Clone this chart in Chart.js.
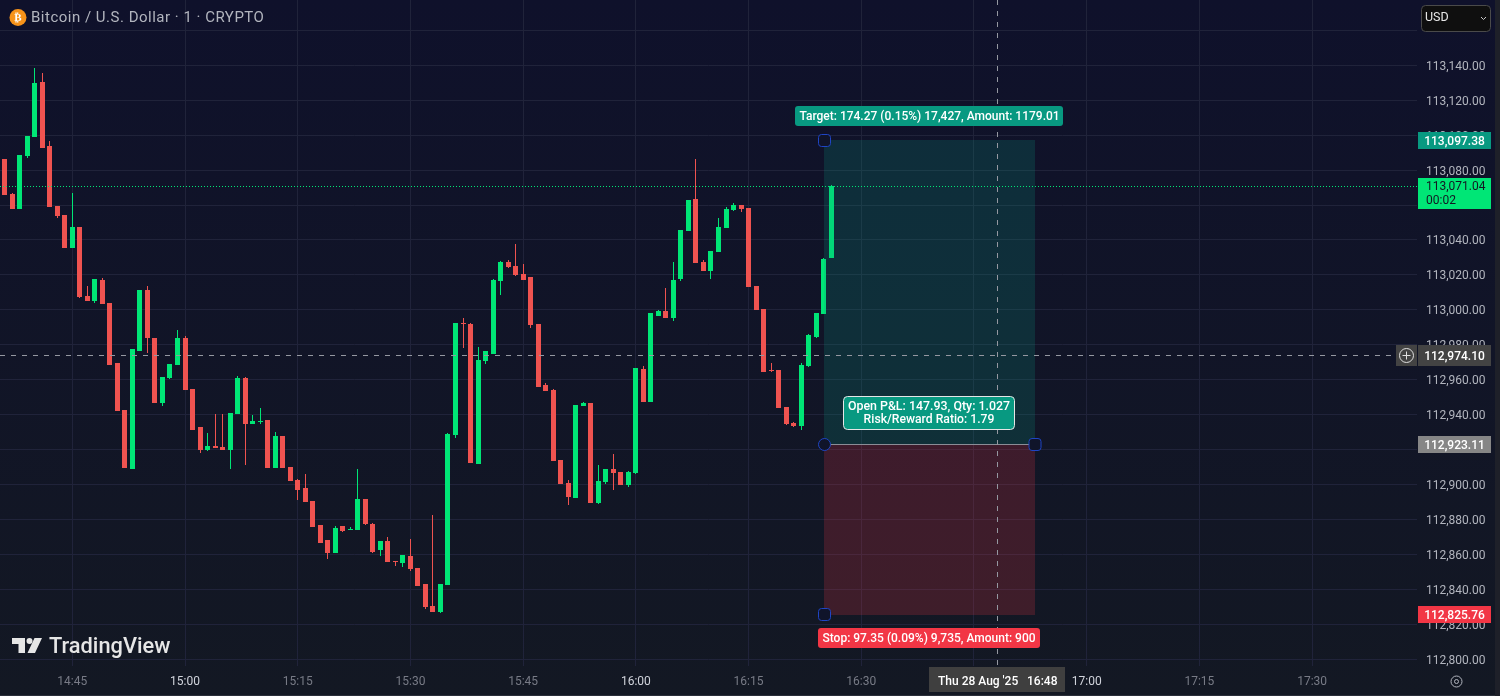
<!DOCTYPE html>
<html>
<head>
<meta charset="utf-8">
<title>Bitcoin / U.S. Dollar</title>
<script src="https://cdn.jsdelivr.net/npm/chart.js@4/dist/chart.umd.min.js"></script>
<style>
    html, body { margin: 0; padding: 0; background: #131722; }
    #wrap { width: 1500px; height: 696px; background: linear-gradient(180deg, #0f112b 0%, #131823 100%); }
    canvas { display: block; }
</style>
</head>
<body>
<div id="wrap"><canvas id="chart" width="1500" height="696"></canvas></div>
<script>
// 1 minute candles, first one is 14:36
const firstMinute = 14 * 60 + 36;
const opens = [
    113086.3, 113066.3, 113057.7, 113088.0, 113098.9, 113130.4, 113093.8, 113059.4, 113054.3, 113035.4,
    113047.4, 113007.9, 113005.1, 113017.1, 113003.9, 112969.6, 112942.7, 112908.9, 112976.4, 113011.3,
    112983.9, 112946.7, 112961.0, 112968.4, 112983.9, 112954.7, 112932.9, 112919.8, 112922.1, 112921.5,
    112919.8, 112940.4, 112961.0, 112934.7, 112935.8, 112937.0, 112909.5, 112927.8, 112910.1, 112902.6,
    112898.0, 112890.6, 112876.9, 112868.3, 112860.8, 112876.3, 112874.0, 112874.0, 112891.7, 112877.4,
    112862.6, 112867.7, 112856.3, 112855.1, 112859.1, 112852.3, 112843.1, 112830.5, 112827.1, 112842.5,
    112928.4, 112992.5, 112991.9, 112911.8, 112970.7, 112974.7, 113016.5, 113027.4, 113025.1, 113020.5,
    113018.8, 112991.9, 112957.0, 112954.1, 112914.1, 112900.9, 112892.3, 112945.0, 112946.7, 112889.5,
    112901.5, 112908.9, 112907.2, 112899.8, 112906.6, 112966.1, 112947.3, 112996.5, 112999.3, 112995.3,
    113017.6, 113045.1, 113063.4, 113027.4, 113022.2, 113033.1, 113046.8, 113057.1, 113060.0, 113058.3,
    113013.6, 113000.5, 112965.6, 112965.6, 112944.4, 112935.2, 112933.5, 112967.9, 112984.5, 112997.6,
    113029.7
];
const highs = [
    113086.3, 113066.9, 113088.6, 113099.5, 113138.4, 113135.5, 113096.6, 113059.4, 113054.3, 113066.9,
    113047.4, 113013.6, 113017.6, 113018.2, 113003.9, 112969.6, 112942.7, 112977.6, 113011.3, 113013.6,
    112983.9, 112961.6, 112969.0, 112988.5, 112985.0, 112954.7, 112932.9, 112929.5, 112940.4, 112940.4,
    112941.0, 112962.1, 112961.6, 112939.8, 112943.8, 112937.0, 112930.1, 112927.8, 112910.1, 112903.2,
    112906.1, 112890.6, 112876.9, 112868.3, 112876.3, 112876.3, 112875.7, 112908.9, 112891.7, 112878.0,
    112867.7, 112870.0, 112856.3, 112859.7, 112868.9, 112852.3, 112843.1, 112882.6, 112843.1, 112929.5,
    112992.5, 112995.3, 112992.5, 112978.7, 112976.4, 113017.6, 113027.9, 113028.5, 113037.7, 113026.2,
    113018.8, 112991.9, 112958.1, 112954.7, 112914.1, 112902.6, 112945.5, 112947.3, 112946.7, 112911.2,
    112908.9, 112917.5, 112907.2, 112907.8, 112966.7, 112967.9, 112998.2, 112999.9, 113012.5, 113027.4,
    113045.7, 113062.8, 113086.3, 113028.5, 113033.7, 113052.5, 113058.8, 113061.1, 113060.0, 113058.3,
    113013.6, 113000.5, 112969.6, 112965.6, 112944.4, 112935.8, 112969.6, 112986.2, 112998.2, 113029.7,
    113071.4
];
const lows = [
    113065.7, 113057.7, 113057.7, 113086.9, 113098.9, 113092.6, 113058.8, 113052.5, 113035.4, 113035.4,
    113006.8, 113005.1, 113003.9, 113003.3, 112968.4, 112942.1, 112909.5, 112908.9, 112976.4, 112975.3,
    112946.7, 112945.0, 112960.4, 112968.4, 112954.1, 112931.2, 112918.1, 112919.2, 112920.9, 112919.8,
    112908.9, 112940.4, 112911.2, 112934.7, 112934.7, 112909.5, 112909.5, 112909.5, 112902.0, 112891.2,
    112890.0, 112875.7, 112866.6, 112857.4, 112860.8, 112872.9, 112874.0, 112874.0, 112876.9, 112860.8,
    112859.1, 112855.7, 112853.4, 112852.8, 112850.5, 112842.0, 112828.8, 112827.1, 112826.5, 112842.5,
    112926.7, 112978.2, 112912.3, 112911.8, 112969.0, 112974.7, 113008.5, 113023.9, 113019.4, 113017.1,
    112989.6, 112955.8, 112953.5, 112913.5, 112900.3, 112888.3, 112892.3, 112945.0, 112889.5, 112888.9,
    112900.3, 112896.9, 112899.8, 112898.6, 112906.1, 112947.3, 112947.3, 112996.5, 112995.3, 112993.6,
    113016.5, 113045.1, 113026.8, 113022.2, 113017.6, 113033.1, 113046.8, 113056.6, 113056.0, 113013.1,
    112999.9, 112964.4, 112964.4, 112943.8, 112934.1, 112932.9, 112931.2, 112967.3, 112983.9, 112997.6,
    113029.7
];
const closes = [
    113065.7, 113057.7, 113088.6, 113099.5, 113129.8, 113092.6, 113058.8, 113053.7, 113035.4, 113047.4,
    113007.3, 113005.1, 113017.6, 113003.3, 112968.4, 112942.1, 112909.5, 112977.6, 113011.3, 112983.9,
    112946.7, 112961.6, 112969.0, 112983.9, 112954.1, 112931.2, 112919.8, 112922.1, 112920.9, 112919.8,
    112941.0, 112961.0, 112934.7, 112936.4, 112936.4, 112909.5, 112927.8, 112909.5, 112902.0, 112896.9,
    112890.0, 112875.7, 112866.6, 112860.8, 112875.2, 112873.4, 112874.6, 112891.7, 112877.4, 112861.4,
    112867.7, 112855.7, 112855.7, 112859.7, 112851.7, 112842.0, 112829.9, 112827.1, 112843.1, 112928.9,
    112992.5, 112991.9, 112912.3, 112971.3, 112976.4, 113017.1, 113027.4, 113024.5, 113019.9, 113017.1,
    112991.3, 112955.8, 112953.5, 112913.5, 112900.3, 112892.9, 112945.5, 112946.7, 112889.5, 112902.0,
    112908.9, 112906.6, 112899.8, 112907.2, 112966.7, 112947.3, 112998.2, 112999.3, 112995.3, 113017.1,
    113045.7, 113062.8, 113026.8, 113022.2, 113033.7, 113047.4, 113057.7, 113060.0, 113057.7, 113013.1,
    112999.9, 112964.4, 112965.0, 112943.8, 112934.7, 112933.5, 112968.4, 112985.6, 112998.2, 113029.1,
    113071.0
];

// Long position tool and the price labels on the right
const lastPrice = 113071.04;
const crossPrice = 112974.10;
const crossMinute = 16 * 60 + 48;
const targetPrice = 113097.38;
const entryPrice = 112923.11;
const stopPrice = 112825.76;
const toolStart = 16 * 60 + 25;
const toolEnd = 16 * 60 + 53;
const hiddenTicks = [113160, 113060, 112920]; // sit behind the selector and the price tags
const countdown = '00:02';
const crossDate = "Thu 28 Aug '25";
const crossTime = '16:48';
const titleText = 'Bitcoin / U.S. Dollar · 1 · CRYPTO';
const targetText = 'Target: 174.27 (0.15%) 17,427, Amount: 1179.01';
const stopText = 'Stop: 97.35 (0.09%) 9,735, Amount: 900';
const pnlText = 'Open P&L: 147.93, Qty: 1.027';
const ratioText = 'Risk/Reward Ratio: 1.79';

const GREEN = '#00e676';
const RED = '#ef5350';
const FONT = 'Roboto, sans-serif';

function formatPrice(v) {
    return v.toLocaleString('en-US', { minimumFractionDigits: 2, maximumFractionDigits: 2 });
}

function formatMinute(m) {
    const mm = m % 60;
    return Math.floor(m / 60) + ':' + (mm < 10 ? '0' : '') + mm;
}

const candleColors = opens.map((o, i) => closes[i] >= o ? GREEN : RED);

function box(ctx, x, y, w, h, r, fill, stroke) {
    ctx.beginPath();
    ctx.roundRect(x, y, w, h, r);
    if (fill) { ctx.fillStyle = fill; ctx.fill(); }
    if (stroke) { ctx.strokeStyle = stroke; ctx.lineWidth = 1; ctx.stroke(); }
}

function label(ctx, text, x, y, color, font, align) {
    ctx.fillStyle = color;
    ctx.font = font;
    ctx.textAlign = align || 'left';
    ctx.textBaseline = 'middle';
    ctx.fillText(text, x, y + 1);
}

function hLine(ctx, x1, x2, y, color, dash) {
    ctx.save();
    ctx.strokeStyle = color;
    ctx.lineWidth = 1;
    ctx.setLineDash(dash || []);
    ctx.beginPath();
    ctx.moveTo(x1, y);
    ctx.lineTo(x2, y);
    ctx.stroke();
    ctx.restore();
}

function handle(ctx, x, y, round) {
    box(ctx, x - 6, y - 6, 12, 12, round ? 6 : 3, '#10142a', '#1f45c4');
}

// right hand price tag, centred on its price
function priceTag(ctx, y, h, bg, color, text) {
    ctx.fillStyle = bg;
    ctx.fillRect(1418, Math.floor(y - h / 2 + 0.5), 73, h);
    label(ctx, text, 1454.5, y + 0.5, color, '500 12px ' + FONT, 'center');
}

// candles sit on whole pixels in the original, and price labels a little lower
const crispCandles = {
    id: 'crispCandles',
    beforeDraw(chart) {
        const ys = chart.scales.y;
        if (!ys.shifted) {
            const drawLabels = ys.drawLabels;
            ys.drawLabels = function (area) {
                chart.ctx.save();
                chart.ctx.translate(0, 1.5);
                drawLabels.call(this, area);
                chart.ctx.restore();
            };
            ys.shifted = true;
        }
    },
    beforeDatasetsDraw(chart) {
        chart.data.datasets.forEach((d, n) => {
            chart.getDatasetMeta(n).data.forEach((el) => {
                el.x = Math.floor(el.x) + 0.5;
                el.y = Math.round(el.y);
                el.base = Math.round(el.base);
                if (el.y === el.base) el.base += 1;
            });
        });
    }
};

const tradingTool = {
    id: 'tradingTool',
    afterDatasetsDraw(chart) {
        const ctx = chart.ctx;
        const xs = chart.scales.x;
        const ys = chart.scales.y;
        const bottom = chart.chartArea.bottom;
        const right = chart.chartArea.right;
        const left = Math.round(xs.getPixelForValue(toolStart));
        const end = Math.ceil(xs.getPixelForValue(toolEnd));
        const targetY = Math.round(ys.getPixelForValue(targetPrice));
        const entryY = Math.round(ys.getPixelForValue(entryPrice));
        const stopY = Math.round(ys.getPixelForValue(stopPrice));
        const lastY = Math.round(ys.getPixelForValue(lastPrice)) + 0.5;
        const crossY = Math.round(ys.getPixelForValue(crossPrice)) + 0.5;
        const crossX = Math.round(xs.getPixelForValue(crossMinute)) + 0.5;

        ctx.save();

        // position zones
        ctx.fillStyle = 'rgba(8, 153, 129, 0.2)';
        ctx.fillRect(left, targetY, end - left, entryY - targetY);
        ctx.fillStyle = 'rgba(242, 54, 69, 0.2)';
        ctx.fillRect(left, entryY, end - left, stopY - entryY + 1);
        hLine(ctx, left, end, entryY + 0.5, '#8a8d96');

        // last price and crosshair
        hLine(ctx, 0, right, lastY, GREEN, [1, 2]);
        hLine(ctx, 0, 1394, crossY, '#9598a1', [5, 6]);
        ctx.save();
        ctx.strokeStyle = '#9598a1';
        ctx.setLineDash([5, 6]);
        ctx.beginPath();
        ctx.moveTo(crossX, 0);
        ctx.lineTo(crossX, bottom);
        ctx.stroke();
        ctx.restore();

        // tool labels
        box(ctx, left - 29, targetY - 34, 268, 20, 3, '#089981');
        label(ctx, targetText, 929.5, targetY - 24, '#ffffff', '500 12px ' + FONT, 'center');
        box(ctx, left - 6, stopY + 14, 222, 20, 3, '#f23645');
        label(ctx, stopText, left + 105, stopY + 24, '#ffffff', '500 12px ' + FONT, 'center');
        box(ctx, 843.5, entryY - 47.5, 171, 33, 4, '#089981', '#e6e6e6');
        label(ctx, pnlText, 929, entryY - 38, '#ffffff', '500 12.4px ' + FONT, 'center');
        label(ctx, ratioText, 929, entryY - 25.5, '#ffffff', '500 12.2px ' + FONT, 'center');

        handle(ctx, left + 0.5, targetY + 0.5, false);
        handle(ctx, left + 0.5, entryY + 0.5, true);
        handle(ctx, end, entryY + 0.5, false);
        handle(ctx, left + 0.5, stopY + 0.5, false);

        // price tags
        priceTag(ctx, targetY, 17, '#089981', '#ffffff', formatPrice(targetPrice));
        ctx.fillStyle = GREEN;
        ctx.fillRect(1418, 178, 73, 31);
        label(ctx, formatPrice(lastPrice), 1426, 185.5, '#131722', '12px ' + FONT);
        label(ctx, countdown, 1426, 199.5, '#131722', '12px ' + FONT);
        priceTag(ctx, crossY, 21, '#434343', '#ffffff', formatPrice(crossPrice));
        priceTag(ctx, entryY, 17, '#868686', '#ffffff', formatPrice(entryPrice));
        priceTag(ctx, stopY, 17, '#f23645', '#ffffff', formatPrice(stopPrice));

        // plus button beside the crosshair tag
        ctx.fillStyle = '#434343';
        ctx.fillRect(1396, 345, 21, 21);
        ctx.strokeStyle = '#e0e0e0';
        ctx.lineWidth = 1;
        ctx.beginPath();
        ctx.arc(1406.5, 355.5, 7, 0, Math.PI * 2);
        ctx.moveTo(1402.5, 355.5);
        ctx.lineTo(1410.5, 355.5);
        ctx.moveTo(1406.5, 351.5);
        ctx.lineTo(1406.5, 359.5);
        ctx.stroke();

        // crosshair time tag
        ctx.fillStyle = '#3f3f3f';
        ctx.fillRect(929, 667, 136, 25);
        label(ctx, crossDate, 938, 680.5, '#ffffff', '500 12px ' + FONT);
        label(ctx, crossTime, 1027, 680.5, '#ffffff', '500 12px ' + FONT);

        // currency selector
        box(ctx, 1421.5, 5.5, 69, 26, 4, '#0f0f0f', '#4a4a4a');
        label(ctx, 'USD', 1425, 17, '#e6e6e6', '12.5px ' + FONT);
        ctx.strokeStyle = '#c8c8c8';
        ctx.beginPath();
        ctx.moveTo(1481, 17);
        ctx.lineTo(1483.5, 19.5);
        ctx.lineTo(1486, 17);
        ctx.stroke();

        // title
        ctx.fillStyle = '#f7931a';
        ctx.beginPath();
        ctx.arc(18, 17.5, 8.5, 0, Math.PI * 2);
        ctx.fill();
        label(ctx, '₿', 18, 17, '#ffffff', 'bold 11px "DejaVu Sans"', 'center');
        ctx.letterSpacing = '0.5px';
        label(ctx, titleText, 31, 17, '#b2b5be', '15px ' + FONT);
        ctx.letterSpacing = '0px';

        // watermark
        ctx.fillStyle = '#e6e6e6';
        ctx.beginPath();
        ctx.moveTo(12, 638);
        ctx.lineTo(25, 638);
        ctx.lineTo(25, 653);
        ctx.lineTo(18.5, 653);
        ctx.lineTo(18.5, 644);
        ctx.lineTo(12, 644);
        ctx.closePath();
        ctx.moveTo(34.5, 638);
        ctx.lineTo(42, 638);
        ctx.lineTo(35, 653);
        ctx.lineTo(27.5, 653);
        ctx.closePath();
        ctx.fill();
        ctx.beginPath();
        ctx.arc(29.5, 641, 3, 0, Math.PI * 2);
        ctx.fill();
        label(ctx, 'TradingView', 49, 646.5, '#e6e6e6', '500 21.8px ' + FONT);

        // chart settings gear
        ctx.strokeStyle = '#b2b5be';
        ctx.lineWidth = 1;
        ctx.beginPath();
        ctx.arc(1456.5, 681.5, 5.5, 0, Math.PI * 2);
        ctx.moveTo(1458.5, 681.5);
        ctx.arc(1456.5, 681.5, 2, 0, Math.PI * 2);
        ctx.stroke();

        // window edge
        ctx.fillStyle = '#1e2029';
        ctx.fillRect(1495, 0, 5, 696);
        ctx.fillStyle = '#2a2e39';
        ctx.fillRect(0, 695, 1495, 1);

        ctx.restore();
    }
};

new Chart(document.getElementById('chart'), {
    type: 'bar',
    data: {
        datasets: [{
            // wicks
            data: opens.map((o, i) => ({ x: firstMinute + i, y: [lows[i], highs[i]] })),
            backgroundColor: candleColors,
            barThickness: 1,
            inflateAmount: 0,
            grouped: false
        }, {
            // bodies
            data: opens.map((o, i) => ({ x: firstMinute + i, y: [o, closes[i]] })),
            backgroundColor: candleColors,
            barThickness: 5,
            inflateAmount: 0,
            grouped: false
        }]
    },
    options: {
        responsive: false,
        animation: false,
        devicePixelRatio: 1,
        layout: { padding: 0 },
        plugins: { legend: { display: false }, tooltip: { enabled: false } },
        scales: {
            x: {
                type: 'linear',
                offset: false,
                min: 875.378,
                max: 1063.96,
                border: { display: false },
                grid: { offset: false, color: '#20233a', drawTicks: false },
                afterFit: (axis) => { axis.height = 30; },
                ticks: {
                    stepSize: 15,
                    autoSkip: false,
                    includeBounds: false,
                    maxRotation: 0,
                    padding: 9,
                    font: { family: 'Roboto', size: 12 },
                    color: (c) => c.tick.value % 60 === 0 ? '#d1d4dc' : '#787b86',
                    callback: (v) => formatMinute(v)
                }
            },
            y: {
                position: 'right',
                min: 112796.2,
                max: 113177.31,
                border: { display: false },
                grid: { color: '#20233a', drawTicks: false },
                afterFit: (axis) => {
                    axis.width = 83;
                    axis.paddingTop = 0;
                    axis.paddingBottom = 0;
                },
                ticks: {
                    stepSize: 20,
                    autoSkip: false,
                    includeBounds: false,
                    padding: 9,
                    font: { family: 'Roboto', size: 12 },
                    color: '#b2b5be',
                    callback: (v) => hiddenTicks.includes(v) ? '' : formatPrice(v)
                }
            }
        }
    },
    plugins: [crispCandles, tradingTool]
});
</script>
</body>
</html>
